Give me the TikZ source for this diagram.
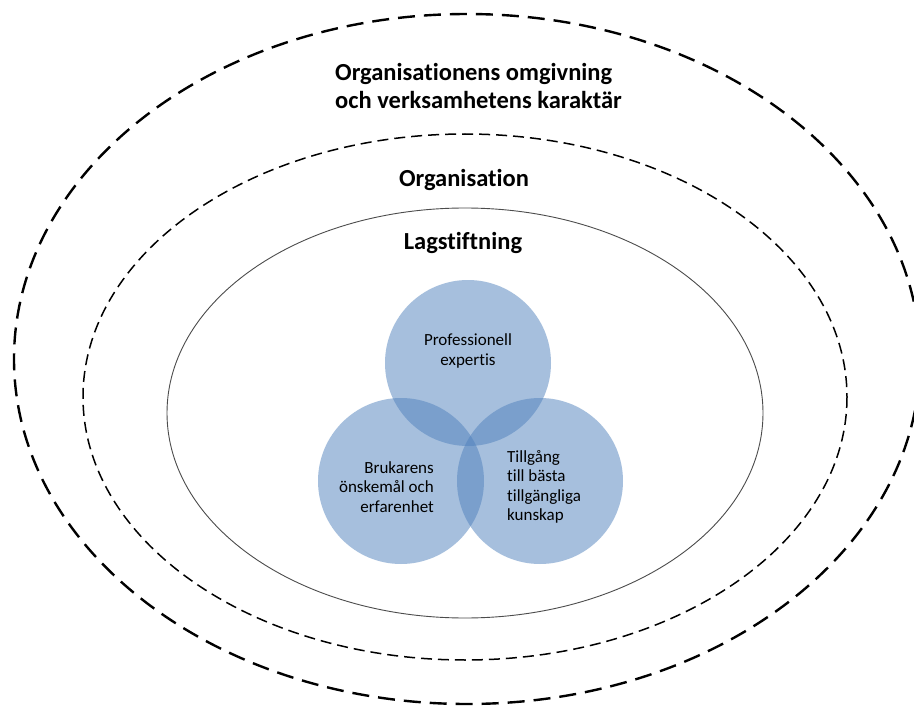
\documentclass[tikz,border=0pt]{standalone}
\usepackage{fontspec}
\setmainfont{Carlito}[Ligatures={NoCommon}]
\definecolor{venn}{RGB}{79,129,189}
\begin{document}
\begin{tikzpicture}[x=1pt,y=-1pt,
  outerring/.style={draw=black,line width=2.4pt,dash pattern=on 17pt off 9pt},
  midring/.style={draw=black,line width=1.5pt,dash pattern=on 11pt off 6pt},
  innerring/.style={draw=black!70,line width=0.9pt},
  venncircle/.style={circle,fill=venn,fill opacity=0.5,minimum size=166pt,inner sep=0pt},
  title/.style={font=\bfseries\fontsize{24.5}{28}\selectfont},
  vtext/.style={font=\fontsize{17}{19.5}\selectfont,text opacity=1}]
\clip (0,0) rectangle (914,706);
\fill[white] (0,0) rectangle (914,706);
\draw[outerring] (467,359) ellipse [x radius=453,y radius=345];
\draw[midring] (465,397) ellipse [x radius=382,y radius=263];
\draw[innerring] (465,413) ellipse [x radius=298,y radius=205];
\node[title,align=left,anchor=west,inner sep=0pt] (t1) at (335,86) {Organisationens omgivning\\och verksamhetens karaktär};
\node[title] (t2) at (464,180) {Organisation};
\node[title] (t3) at (463,243) {Lagstiftning};
\node[venncircle] (c1) at (468,363) {};
\node[venncircle] (c2) at (401,481) {};
\node[venncircle] (c3) at (540,481) {};
\node[vtext,align=center] (l1) at (468,351) {Professionell\\expertis};
\node[vtext,align=right,anchor=east,inner sep=0pt] (l2) at (434,487) {Brukarens\\önskemål och\\erfarenhet};
\node[vtext,align=left,anchor=west,inner sep=0pt] (l3) at (507,487) {Tillgång\\till bästa\\tillgängliga\\kunskap};
\end{tikzpicture}
\end{document}
